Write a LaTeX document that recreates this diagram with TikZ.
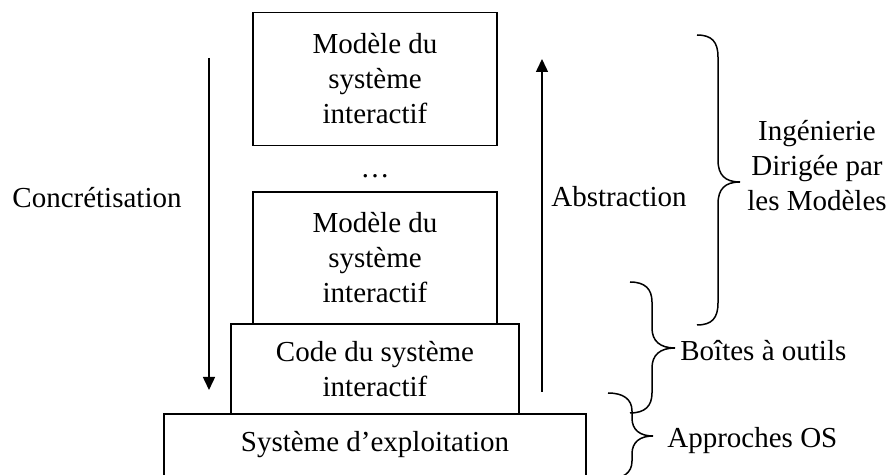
\documentclass[tikz,border=0pt]{standalone}
\usepackage{fontspec}
\setmainfont{Liberation Serif}
\usetikzlibrary{arrows.meta}
\begin{document}
\begin{tikzpicture}[x=0.5pt,y=-0.5pt,
  every node/.style={font=\fontsize{14.5}{17.5}\selectfont, inner sep=0pt},
  layerbox/.style={draw, line width=0.75pt, align=center},
  lbl/.style={align=center},
  flow/.style={line width=0.75pt, -{Triangle[length=6.5pt,width=6pt]}},
  brace/.style={line width=0.75pt}]
\useasboundingbox (0,0) rectangle (891,475);
\clip (0,0) rectangle (891,475);
\fill[white] (0,0) rectangle (891,475);
% boxes
\node[layerbox, minimum width=122pt, minimum height=66.5pt] (m1) at (375,79) {Modèle du\\système\\interactif};
\node (dots) at (375,176) {…};
\node[layerbox, minimum width=122pt, minimum height=66pt] (m2) at (375,258) {Modèle du\\système\\interactif};
\node[layerbox, minimum width=144pt, minimum height=45pt] (code) at (375,369) {Code du système\\interactif};
\node[layerbox, minimum width=211pt, minimum height=34pt, text depth=7pt] (os) at (375,448) {Système d’exploitation};
% side labels
\node[lbl] (conc) at (97,198) {Concrétisation};
\node[lbl] (abs) at (619,197) {Abstraction};
\node[lbl] (idm) at (817,166) {Ingénierie\\Dirigée par\\les Modèles};
\node[lbl, anchor=west] (bao) at (680,351) {Boîtes à outils};
\node[lbl, anchor=west] (aos) at (667,441) {Approches OS};
% arrows
\coordinate (c1) at (209,58);
\coordinate (c2) at (209,390);
\coordinate (a1) at (542,392);
\coordinate (a2) at (542,59);
\draw[flow] (c1) -- (c2);
\draw[flow] (a1) -- (a2);
% braces
\coordinate (b1t) at (697,35);
\coordinate (b1m) at (740,182);
\coordinate (b1b) at (697,325);
\draw[brace] (b1t) .. controls (712,35) and (718,42) .. (718,57) -- (718,160)
  .. controls (718,175) and (725,182) .. (b1m)
  .. controls (725,182) and (718,189) .. (718,204) -- (718,303)
  .. controls (718,318) and (712,325) .. (b1b);
\coordinate (b2t) at (630,282);
\coordinate (b2m) at (675,348);
\coordinate (b2b) at (630,413);
\draw[brace] (b2t) .. controls (645,282) and (652,289) .. (652,302) -- (652,328)
  .. controls (652,341) and (660,348) .. (b2m)
  .. controls (660,348) and (652,355) .. (652,368) -- (652,393)
  .. controls (652,406) and (645,413) .. (b2b);
\coordinate (b3t) at (608,393);
\coordinate (b3m) at (653,436);
\coordinate (b3b) at (608,479);
\draw[brace] (b3t) .. controls (623,393) and (632,399) .. (632,411) -- (632,418)
  .. controls (632,430) and (640,436) .. (b3m)
  .. controls (640,436) and (632,442) .. (632,454) -- (632,461)
  .. controls (632,473) and (623,479) .. (b3b);
\end{tikzpicture}
\end{document}
